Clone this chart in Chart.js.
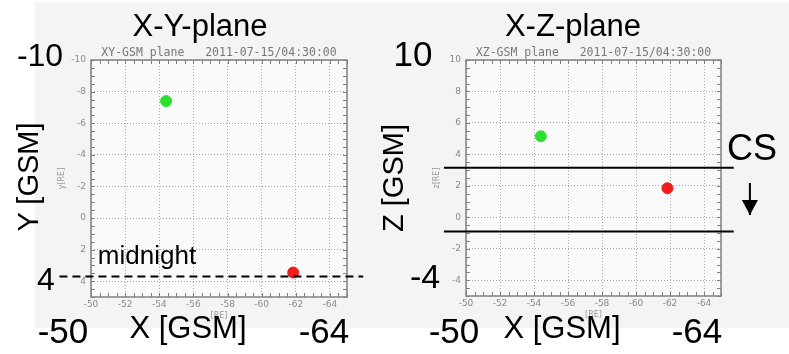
<!DOCTYPE html>
<html>
<head>
<meta charset="utf-8">
<script src="https://cdn.jsdelivr.net/npm/chart.js@4/dist/chart.umd.min.js"></script>
<style>
    body { margin: 0; background: #fff; }
    #stage { position: relative; width: 789px; height: 354px; overflow: hidden; font-family: "Liberation Sans", Arial, sans-serif; }
    #paper { position: absolute; left: 35px; top: 2px; width: 754px; height: 326px; background: #f4f4f4; }
    .box { position: absolute; top: 0; height: 354px; }
    .big { position: absolute; line-height: 1; white-space: nowrap; color: #000; transform: translate(-50%, -50%); }
    .rot { transform: translate(-50%, -50%) rotate(-90deg); }
</style>
</head>
<body>
<div id="stage">
    <div id="paper"></div>
    <div class="box" style="left:0;width:394px"><canvas id="xyChart" width="394" height="354"></canvas></div>
    <div class="box" style="left:394px;width:395px"><canvas id="xzChart" width="395" height="354"></canvas></div>

    <div class="big" style="left:200px;top:25px;font-size:31px">X-Y-plane</div>
    <div class="big" style="left:573px;top:25px;font-size:31px">X-Z-plane</div>
    <div class="big" style="left:40px;top:55px;font-size:32px">-10</div>
    <div class="big rot" style="left:28px;top:177px;font-size:29px">Y [GSM]</div>
    <div class="big" style="left:46px;top:279px;font-size:32px">4</div>
    <div class="big" style="left:147px;top:255px;font-size:26px">midnight</div>
    <div class="big" style="left:63px;top:330px;font-size:35px">-50</div>
    <div class="big" style="left:188px;top:327px;font-size:31px">X [GSM]</div>
    <div class="big" style="left:324px;top:330px;font-size:35px">-64</div>

    <div class="big" style="left:413px;top:53px;font-size:35px">10</div>
    <div class="big rot" style="left:393px;top:178px;font-size:29px">Z [GSM]</div>
    <div class="big" style="left:425px;top:276px;font-size:34px">-4</div>
    <div class="big" style="left:454px;top:330px;font-size:35px">-50</div>
    <div class="big" style="left:562px;top:327px;font-size:31px">X [GSM]</div>
    <div class="big" style="left:697px;top:330px;font-size:35px">-64</div>
    <div class="big" style="left:752px;top:148px;font-size:36px">CS</div>
</div>

<script>
// Tick labels of the small IDL plots
const xTicks = [-50, -52, -54, -56, -58, -60, -62, -64];
const yTicks = [-10, -8, -6, -4, -2, 0, 2, 4];
const zTicks = [-4, -2, 0, 2, 4, 6, 8, 10];

// Spacecraft positions (green, red) in RE
const posX = [-54.4, -61.85];
const posY = [-7.4, 3.45];
const posZ = [5.15, 1.85];
const dotColors = ['#2ee02e', '#ee1c1c'];

// Overlaid annotations
const midnightX = [-48.15, -65.95];
const midnightY = 3.7;
const csX = [-48.7, -65.75];
const csZ = [3.15, -0.9];
const arrowX = -66.7;
const arrowZ = [2.18, 0.15];

const minorStep = 0.5;
const smallFont = { family: 'DejaVu Sans', size: 9 };
const smallColor = '#8a8a8a';

// Plot frame, background and IDL style minor ticks
const idlFrame = {
    id: 'idlFrame',
    beforeDraw(chart) {
        const a = chart.chartArea;
        const ctx = chart.ctx;
        ctx.save();
        ctx.fillStyle = '#fafafa';
        ctx.fillRect(a.left, a.top, a.right - a.left, a.bottom - a.top);
        ctx.restore();
    },
    beforeDatasetsDraw(chart, args, opts) {
        const a = chart.chartArea;
        const ctx = chart.ctx;
        const xs = chart.scales.x;
        const ys = chart.scales.y;
        ctx.save();
        ctx.strokeStyle = '#808080';
        ctx.lineWidth = 1;
        for (let v = xs.min; v <= xs.max + 1e-9; v += minorStep) {
            const px = Math.round(xs.getPixelForValue(v)) + 0.5;
            ctx.beginPath();
            ctx.moveTo(px, a.bottom); ctx.lineTo(px, a.bottom - 4);
            ctx.moveTo(px, a.top); ctx.lineTo(px, a.top + 4);
            ctx.stroke();
        }
        for (let v = ys.min; v <= ys.max + 1e-9; v += minorStep) {
            const py = Math.round(ys.getPixelForValue(v)) + 0.5;
            ctx.beginPath();
            ctx.moveTo(a.left, py); ctx.lineTo(a.left + 4, py);
            ctx.moveTo(a.right, py); ctx.lineTo(a.right - 4, py);
            ctx.stroke();
        }
        ctx.lineWidth = 1.5;
        ctx.strokeRect(a.left, a.top, a.right - a.left, a.bottom - a.top);
        // small plot title
        ctx.fillStyle = '#777';
        ctx.font = '11.5px "DejaVu Sans Mono"';
        ctx.textAlign = 'center';
        ctx.textBaseline = 'alphabetic';
        ctx.fillText(opts.text, (a.left + a.right) / 2, a.top - 4);
        ctx.restore();
    },
    afterDatasetsDraw(chart) {
        // arrow head at the end of the arrow dataset
        chart.data.datasets.forEach((ds, i) => {
            if (!ds.arrow) return;
            const pts = chart.getDatasetMeta(i).data;
            const tip = pts[pts.length - 1];
            const ctx = chart.ctx;
            ctx.save();
            ctx.fillStyle = '#000';
            ctx.beginPath();
            ctx.moveTo(tip.x, tip.y);
            ctx.lineTo(tip.x - 8, tip.y - 15);
            ctx.lineTo(tip.x + 8, tip.y - 15);
            ctx.closePath();
            ctx.fill();
            ctx.restore();
        });
    }
};

function makeScales(yMin, yMax, reverseY, ticksY, yTitle) {
    return {
        x: {
            type: 'linear',
            min: -65,
            max: -50,
            reverse: true,
            afterBuildTicks: s => { s.ticks = xTicks.map(v => ({ value: v })); },
            afterFit: s => { s.height = 24; },
            ticks: { autoSkip: false, font: smallFont, color: smallColor, padding: 2, maxRotation: 0 },
            grid: { color: '#a8a8a8', drawTicks: false },
            border: { display: false, dash: [1, 2] },
            title: { display: true, text: '[RE]', font: { family: 'DejaVu Sans', size: 8 }, color: '#999', padding: 0 }
        },
        y: {
            type: 'linear',
            min: yMin,
            max: yMax,
            reverse: reverseY,
            afterBuildTicks: s => { s.ticks = ticksY.map(v => ({ value: v })); },
            afterFit: s => { s.width = 36; },
            ticks: { autoSkip: false, font: smallFont, color: smallColor, padding: 5 },
            grid: { color: '#a8a8a8', drawTicks: false },
            border: { display: false, dash: [1, 2] },
            title: { display: true, text: yTitle, font: { family: 'DejaVu Sans', size: 8 }, color: '#999', padding: 2 }
        }
    };
}

function dotSets(yValues) {
    return posX.map((x, i) => ({
        data: [{ x: x, y: yValues[i] }],
        backgroundColor: dotColors[i],
        borderColor: dotColors[i],
        pointRadius: 5.5,
        pointHoverRadius: 5.5,
        order: 2
    }));
}

function baseOptions(scales, padding, title) {
    return {
        responsive: false,
        animation: false,
        layout: { padding: padding },
        plugins: { legend: { display: false }, tooltip: { enabled: false }, idlFrame: { text: title } },
        scales: scales
    };
}

// X-Y plane
new Chart(document.getElementById('xyChart'), {
    type: 'scatter',
    data: {
        datasets: [
            {
                data: midnightX.map(x => ({ x: x, y: midnightY })),
                showLine: true,
                borderColor: '#000',
                borderWidth: 2,
                borderDash: [8, 5],
                pointRadius: 0,
                clip: false,
                order: 1
            },
            ...dotSets(posY)
        ]
    },
    options: baseOptions(makeScales(-10, 5, true, yTicks, 'y[RE]'),
        { left: 55, top: 60, right: 47, bottom: 33 },
        'XY-GSM plane   2011-07-15/04:30:00'),
    plugins: [idlFrame]
});

// X-Z plane
new Chart(document.getElementById('xzChart'), {
    type: 'scatter',
    data: {
        datasets: [
            ...csZ.map(z => ({
                data: csX.map(x => ({ x: x, y: z })),
                showLine: true,
                borderColor: '#000',
                borderWidth: 1.8,
                pointRadius: 0,
                clip: false,
                order: 1
            })),
            {
                data: arrowZ.map(z => ({ x: arrowX, y: z })),
                arrow: true,
                showLine: true,
                borderColor: '#000',
                borderWidth: 2,
                pointRadius: 0,
                clip: false,
                order: 1
            },
            ...dotSets(posZ)
        ]
    },
    options: baseOptions(makeScales(-5, 10, false, zTicks, 'z[RE]'),
        { left: 36, top: 60, right: 68, bottom: 34 },
        'XZ-GSM plane   2011-07-15/04:30:00'),
    plugins: [idlFrame]
});
</script>
</body>
</html>
